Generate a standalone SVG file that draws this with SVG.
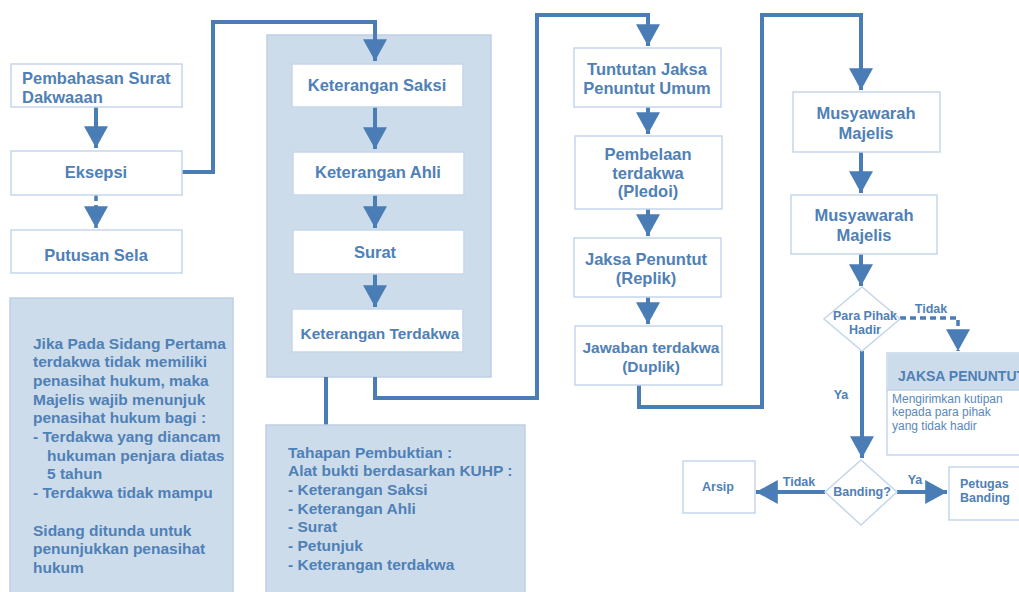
<svg xmlns="http://www.w3.org/2000/svg" width="1019" height="592" viewBox="0 0 1019 592">
<defs>
<style>
.box{fill:#fff;stroke:#c4d6ea;stroke-width:1.5}
.panel{fill:#cddcea;stroke:#bdd0e5;stroke-width:1.5}
.t{font-family:"Liberation Sans",Arial,sans-serif;font-weight:bold;fill:#4f80b6}
.n{font-size:16.5px;text-anchor:middle}
.p{font-size:15.5px}
.s{font-size:12.5px}
.c{fill:none;stroke:#4a7db5;stroke-width:4}
.d{fill:none;stroke:#4a7db5;stroke-width:3.5;stroke-dasharray:6 4}
</style>
<marker id="ah" markerUnits="userSpaceOnUse" markerWidth="24" markerHeight="24" viewBox="0 0 20 22" refX="20" refY="11" orient="auto">
<path d="M0,0 L20,11 L0,22 z" fill="#4a7db5"/>
</marker>
</defs>
<rect width="1019" height="592" fill="#fff"/>

<g id="pembuktian">
<rect class="panel" x="267" y="35" width="224" height="342"/>
</g>

<g id="connectors">
<path class="c" d="M96,107 V148" marker-end="url(#ah)"/>
<path class="d" d="M96,195 V228" marker-end="url(#ah)"/>
<path class="c" d="M182,172 H213 V22 H375 V61" marker-end="url(#ah)"/>
<path class="c" d="M375,107 V149" marker-end="url(#ah)"/>
<path class="c" d="M375,195 V228" marker-end="url(#ah)"/>
<path class="c" d="M375,274 V307" marker-end="url(#ah)"/>
<path class="c" d="M326,377 V425"/>
<path class="c" d="M375,377 V398 H537 V15 H648 V46" marker-end="url(#ah)"/>
<path class="c" d="M648,107 V134" marker-end="url(#ah)"/>
<path class="c" d="M648,209 V236" marker-end="url(#ah)"/>
<path class="c" d="M648,297 V324" marker-end="url(#ah)"/>
<path class="c" d="M639,385 V407 H762 V15 H861 V90" marker-end="url(#ah)"/>
<path class="c" d="M861,152 V193" marker-end="url(#ah)"/>
<path class="c" d="M861,254 V286" marker-end="url(#ah)"/>
<path class="c" d="M862,351 V458" marker-end="url(#ah)"/>
<path class="d" d="M900,318 H958 V351" marker-end="url(#ah)"/>
<path class="c" d="M825,492 H756" marker-end="url(#ah)"/>
<path class="c" d="M897,492 H947" marker-end="url(#ah)"/>
<text class="t s" x="931" y="313" text-anchor="middle" font-size="12">Tidak</text>
<text class="t s" x="841" y="399" text-anchor="middle">Ya</text>
<text class="t s" x="799" y="486" text-anchor="middle">Tidak</text>
<text class="t s" x="915" y="484" text-anchor="middle">Ya</text>
</g>

<g id="pembahasan">
<rect class="box" x="11" y="64" width="171" height="43"/>
<text class="t" font-size="16.5" x="22" y="84">Pembahasan Surat<tspan x="22" y="103">Dakwaaan</tspan></text>
</g>
<g id="eksepsi">
<rect class="box" x="11" y="151" width="171" height="44"/>
<text class="t n" x="96" y="178">Eksepsi</text>
</g>
<g id="putusan-sela">
<rect class="box" x="11" y="230" width="171" height="43"/>
<text class="t n" x="96" y="261">Putusan Sela</text>
</g>

<g id="catatan-penasihat">
<rect class="panel" x="10" y="298" width="223" height="300"/>
<text class="t p" x="33" y="348.5">Jika Pada Sidang Pertama<tspan x="33" y="367.2">terdakwa tidak memiliki</tspan><tspan x="33" y="385.9">penasihat hukum, maka</tspan><tspan x="33" y="404.6">Majelis wajib menunjuk</tspan><tspan x="33" y="423.3">penasihat hukum bagi :</tspan><tspan x="33" y="442">- Terdakwa yang diancam</tspan><tspan x="47" y="460.7">hukuman penjara diatas</tspan><tspan x="47" y="479.4">5 tahun</tspan><tspan x="33" y="498.1">- Terdakwa tidak mampu</tspan><tspan x="33" y="535.5">Sidang ditunda untuk</tspan><tspan x="33" y="554.2">penunjukkan penasihat</tspan><tspan x="33" y="572.9">hukum</tspan></text>
</g>

<g id="keterangan-saksi">
<rect class="box" x="292" y="64" width="171" height="43"/>
<text class="t n" x="377" y="91">Keterangan Saksi</text>
</g>
<g id="keterangan-ahli">
<rect class="box" x="293" y="152" width="171" height="43"/>
<text class="t n" x="378" y="178">Keterangan Ahli</text>
</g>
<g id="surat">
<rect class="box" x="293" y="230" width="171" height="44"/>
<text class="t n" x="375" y="258">Surat</text>
</g>
<g id="keterangan-terdakwa">
<rect class="box" x="292" y="309" width="171" height="43"/>
<text class="t n" x="380" y="339" style="font-size:15.4px">Keterangan Terdakwa</text>
</g>

<g id="tahapan">
<rect class="panel" x="266" y="425" width="259" height="180"/>
<text class="t p" x="288" y="457.5">Tahapan Pembuktian :<tspan x="288" y="476.2">Alat bukti berdasarkan KUHP :</tspan><tspan x="288" y="494.9">- Keterangan Saksi</tspan><tspan x="288" y="513.6">- Keterangan Ahli</tspan><tspan x="288" y="532.3">- Surat</tspan><tspan x="288" y="551">- Petunjuk</tspan><tspan x="288" y="569.7">- Keterangan terdakwa</tspan></text>
</g>

<g id="tuntutan">
<rect class="box" x="574" y="48" width="147" height="59"/>
<text class="t n" x="647" y="75">Tuntutan Jaksa<tspan x="647" y="94">Penuntut Umum</tspan></text>
</g>
<g id="pledoi">
<rect class="box" x="575" y="136" width="147" height="73"/>
<text class="t n" x="648" y="160">Pembelaan<tspan x="648" y="179">terdakwa</tspan><tspan x="648" y="197">(Pledoi)</tspan></text>
</g>
<g id="replik">
<rect class="box" x="574" y="238" width="147" height="59"/>
<text class="t n" x="646" y="265">Jaksa Penuntut<tspan x="646" y="284">(Replik)</tspan></text>
</g>
<g id="duplik">
<rect class="box" x="575" y="326" width="147" height="59"/>
<text class="t n" x="651" y="353" style="font-size:15.5px">Jawaban terdakwa<tspan x="651" y="372">(Duplik)</tspan></text>
</g>

<g id="musyawarah-1">
<rect class="box" x="793" y="92" width="147" height="60"/>
<text class="t n" x="866" y="119">Musyawarah<tspan x="866" y="139">Majelis</tspan></text>
</g>
<g id="musyawarah-2">
<rect class="box" x="791" y="195" width="146" height="59"/>
<text class="t n" x="864" y="221">Musyawarah<tspan x="864" y="241">Majelis</tspan></text>
</g>

<g id="para-pihak-hadir">
<polygon class="box" points="862,287 900,319 862,351 824,319"/>
<text class="t s" x="865" y="320" text-anchor="middle">Para Pihak<tspan x="865" y="334">Hadir</tspan></text>
</g>

<g id="jaksa-penuntut">
<rect class="box" x="887" y="353" width="140" height="102"/>
<rect x="887.75" y="353.75" width="140" height="36" fill="#cddcea"/>
<line x1="887" y1="390" x2="1019" y2="390" stroke="#bdd0e5" stroke-width="1.5"/>
<text class="t" font-size="14" x="898" y="381">JAKSA PENUNTUT</text>
<text font-family="Liberation Sans,Arial,sans-serif" font-size="12" fill="#5a88bd" x="892" y="403">Mengirimkan kutipan<tspan x="892" y="416">kepada para pihak</tspan><tspan x="892" y="430">yang tidak hadir</tspan></text>
</g>

<g id="banding">
<polygon class="box" points="861,460 897,492 861,525 825,492"/>
<text class="t s" x="862" y="496" text-anchor="middle">Banding?</text>
</g>
<g id="arsip">
<rect class="box" x="683" y="461" width="72" height="52"/>
<text class="t s" x="718" y="491" text-anchor="middle">Arsip</text>
</g>
<g id="petugas-banding">
<rect class="box" x="949" y="467" width="80" height="53"/>
<text class="t s" x="960" y="488">Petugas<tspan x="960" y="502">Banding</tspan></text>
</g>
</svg>
